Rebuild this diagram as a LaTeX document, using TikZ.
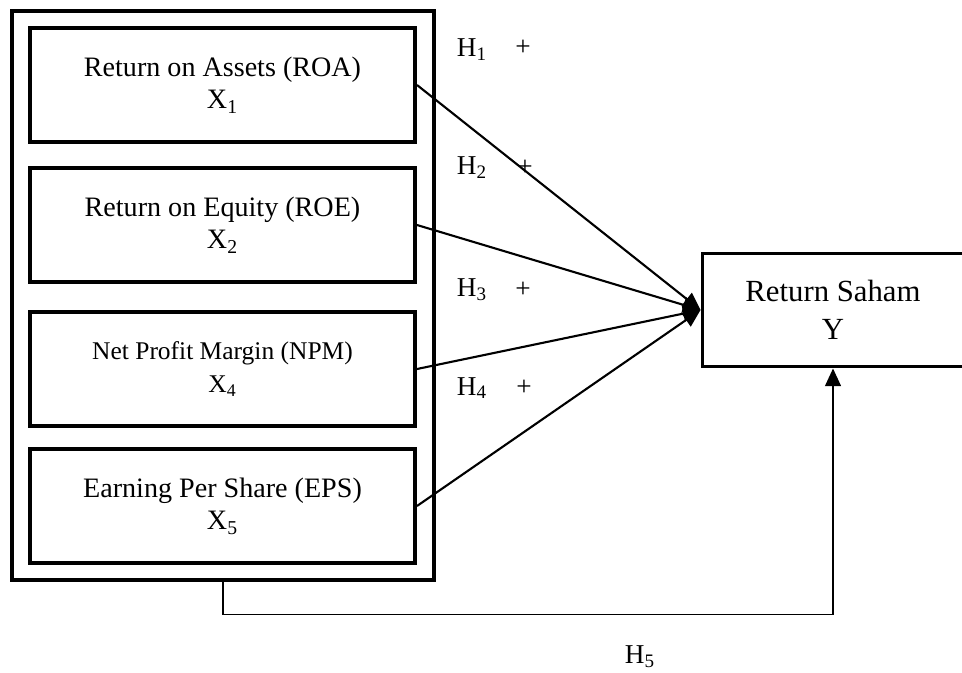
\documentclass[tikz,border=0pt]{standalone}
\usepackage{fontspec}
\setmainfont{Liberation Serif}
\usetikzlibrary{arrows.meta}
\begin{document}
\begin{tikzpicture}[x=0.02cm, y=-0.02cm, >={Triangle[length=10pt,width=9pt]},
    varbox/.style={draw, line width=2.3pt, minimum width=7.7cm, minimum height=2.28cm,
        inner sep=0pt, align=center, font=\fontsize{16}{18.5}\selectfont},
    hyp/.style={font=\fontsize{15.5}{17}\selectfont}]
    \useasboundingbox (0,0) rectangle (962,672);

    \node[draw, line width=1.9pt, minimum width=8.44cm, minimum height=11.38cm,
        inner sep=0pt] (indep) at (223,295.5) {};
    \node[varbox] (roa) at (222.5,85) {Return on Assets (ROA)\\X\textsubscript{1}};
    \node[varbox] (roe) at (222.5,225) {Return on Equity (ROE)\\X\textsubscript{2}};
    \node[varbox, font=\fontsize{14.5}{18.5}\selectfont] (npm) at (222.5,369)
        {Net Profit Margin (NPM)\\X\textsubscript{4}};
    \node[varbox] (eps) at (222.5,506) {Earning Per Share (EPS)\\X\textsubscript{5}};

    \node[draw, line width=1.7pt, minimum width=5.24cm, minimum height=2.28cm,
        inner sep=0pt, align=center, font=\fontsize{17.5}{21.5}\selectfont]
        (ret) at (833,310) {Return Saham\\Y};

    \draw[->, line width=1.2pt] (roa.east) -- (ret.west);
    \draw[->, line width=1.2pt] (roe.east) -- (ret.west);
    \draw[->, line width=1.2pt] (npm.east) -- (ret.west);
    \draw[->, line width=1.2pt] (eps.east) -- (ret.west);
    \draw[->, line width=0.9pt] (indep.south) -- ++(0,33) -| (ret.south);

    \node[hyp] (h1) at (472,50) {H\textsubscript{1}};
    \node[hyp] (p1) at (523,48) {+};
    \node[hyp] (h2) at (472,168) {H\textsubscript{2}};
    \node[hyp] (p2) at (525,168) {+};
    \node[hyp] (h3) at (472,290) {H\textsubscript{3}};
    \node[hyp] (p3) at (523,290) {+};
    \node[hyp] (h4) at (472,388) {H\textsubscript{4}};
    \node[hyp] (p4) at (524,388) {+};
    \node[hyp] (h5) at (640,657) {H\textsubscript{5}};
\end{tikzpicture}
\end{document}
